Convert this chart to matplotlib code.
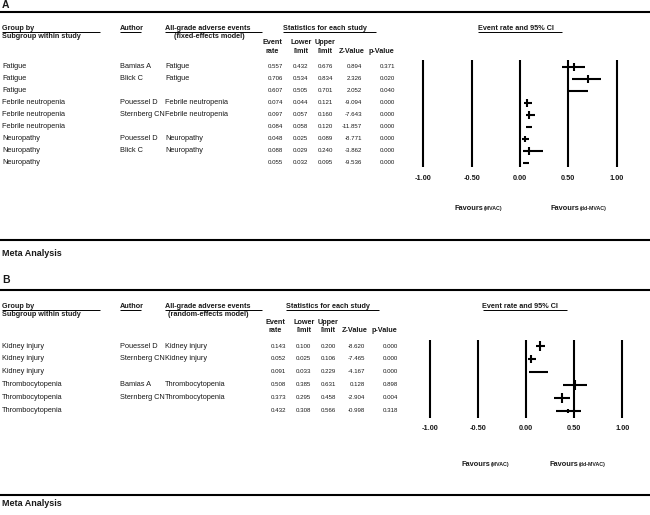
import matplotlib
matplotlib.use("Agg")
import matplotlib.pyplot as plt
from matplotlib.transforms import blended_transform_factory

plt.rcParams['font.family'] = ['Liberation Sans', 'DejaVu Sans']

# ---------------- data ----------------
a_group = ["Fatigue", "Fatigue", "Fatigue",
           "Febrile neutropenia", "Febrile neutropenia", "Febrile neutropenia",
           "Neuropathy", "Neuropathy", "Neuropathy"]
a_author = ["Bamias A", "Blick C", "", "Pouessel D", "Sternberg CN", "",
            "Pouessel D", "Blick C", ""]
a_event = ["Fatigue", "Fatigue", "", "Febrile neutropenia", "Febrile neutropenia", "",
           "Neuropathy", "Neuropathy", ""]
a_rate = [0.557, 0.706, 0.607, 0.074, 0.097, 0.084, 0.048, 0.088, 0.055]
a_lower = [0.432, 0.534, 0.505, 0.044, 0.057, 0.058, 0.025, 0.029, 0.032]
a_upper = [0.676, 0.834, 0.701, 0.121, 0.160, 0.120, 0.089, 0.240, 0.095]
a_z = [0.894, 2.326, 2.052, -9.094, -7.643, -11.857, -8.771, -3.862, -9.536]
a_p = [0.371, 0.020, 0.040, 0.000, 0.000, 0.000, 0.000, 0.000, 0.000]
a_weight = [6, 6, 1.5, 6, 6, 2, 5, 6, 2]

b_group = ["Kidney injury", "Kidney injury", "Kidney injury",
           "Thrombocytopenia", "Thrombocytopenia", "Thrombocytopenia"]
b_author = ["Pouessel D", "Sternberg CN", "", "Bamias A", "Sternberg CN", ""]
b_event = ["Kidney injury", "Kidney injury", "", "Thrombocytopenia", "Thrombocytopenia", ""]
b_rate = [0.143, 0.052, 0.091, 0.508, 0.373, 0.432]
b_lower = [0.100, 0.025, 0.033, 0.385, 0.295, 0.308]
b_upper = [0.200, 0.106, 0.229, 0.631, 0.458, 0.566]
b_z = [-8.620, -7.465, -4.167, 0.128, -2.904, -0.998]
b_p = [0.000, 0.000, 0.000, 0.898, 0.004, 0.318]
b_weight = [7, 6, 2, 7, 7, 3]

ticks = [-1.0, -0.5, 0.0, 0.5, 1.0]
tick_labels = ["-1.00", "-0.50", "0.00", "0.50", "1.00"]

# ---------------- figure ----------------
W, H = 650, 515
fig = plt.figure(figsize=(W / 100, H / 100), dpi=100)
bg = fig.add_axes([0, 0, 1, 1])
bg.set_xlim(0, W)
bg.set_ylim(H, 0)
bg.axis('off')

TC = '#1a1a1a'
BODY = 5.3
NUM = 4.4
HEAD = 5.2


def T(x, y, s, size=BODY, weight='normal', ha='left', color=TC):
    bg.text(x, y, s, fontsize=size, fontweight=weight, ha=ha, va='center', color=color)


def rule(y):
    bg.plot([0, W], [y, y], color='black', lw=1.5, solid_capstyle='butt')


def uline(x0, x1, y):
    bg.plot([x0, x1], [y, y], color='black', lw=0.7, solid_capstyle='butt')


def panel(label, y_label, y_rule, y_head, model, model_cx, dx, rows_y0, row_dy,
          group, author, event, rate, lower, upper, z, p, weight,
          zero_px, scale_px, vtop, vbot, y_ticklab, y_fav, fav_x):
    T(2, y_label, label, size=7.5, weight='bold')
    rule(y_rule)
    # headers
    T(2, y_head, "Group by", size=HEAD, weight='bold')
    uline(2, 100, y_head + 4.3)
    T(2, y_head + 8.3, "Subgroup within study", size=HEAD, weight='bold')
    T(120, y_head, "Author", size=HEAD, weight='bold')
    uline(120, 141, y_head + 4.3)
    T(165, y_head, "All-grade adverse events", size=HEAD, weight='bold')
    uline(165, 262, y_head + 4.3)
    T(model_cx, y_head + 8.3, model, size=HEAD, weight='bold', ha='center')
    T(283 + dx, y_head, "Statistics for each study", size=HEAD, weight='bold')
    uline(283 + dx, 376 + dx, y_head + 4.3)
    T(478 + 1.5 * dx, y_head, "Event rate and 95% CI", size=HEAD, weight='bold')
    uline(478 + 1.5 * dx, 562 + 1.5 * dx, y_head + 4.3)
    ye, yr = rows_y0 - 24, rows_y0 - 15
    for cx, l1, l2 in [(272.5, "Event", "rate"), (301, "Lower", "limit"),
                       (325, "Upper", "limit")]:
        T(cx + dx, ye, l1, size=HEAD, weight='bold', ha='center')
        T(cx + dx, yr, l2, size=HEAD, weight='bold', ha='center')
    T(352 + dx, yr, "Z-Value", size=HEAD, weight='bold', ha='center')
    T(381 + dx, yr, "p-Value", size=HEAD, weight='bold', ha='center')
    # rows
    cols = [283, 308, 333, 362, 395]
    for i in range(len(group)):
        y = rows_y0 + i * row_dy
        T(2, y, group[i])
        T(120, y, author[i])
        T(165, y, event[i])
        vals = [f"{rate[i]:.3f}", f"{lower[i]:.3f}", f"{upper[i]:.3f}",
                f"{z[i]:.3f}", f"{p[i]:.3f}"]
        for cx, v in zip(cols, vals):
            T(cx + dx, y, v, size=NUM, ha='right')
    # forest axes
    n = len(group)
    xl = (-1.1, 1.1)
    left = zero_px + scale_px * xl[0]
    right = zero_px + scale_px * xl[1]
    k_top = (vtop - rows_y0) / row_dy
    k_bot = (vbot - rows_y0) / row_dy
    ax = fig.add_axes([left / W, 1 - vbot / H, (right - left) / W, (vbot - vtop) / H])
    ax.set_xlim(*xl)
    ax.set_ylim(k_bot, k_top)
    ax.axis('off')
    for t in ticks:
        ax.axvline(t, color='black', lw=1.5)
    ys = list(range(n))
    ax.hlines(ys, lower, upper, color='black', lw=1.5)
    for yi, r, w in zip(ys, rate, weight):
        ax.plot([r], [yi], marker='|', ms=w, mew=1.5, color='black')
    tr = blended_transform_factory(ax.transData, bg.transData)
    for t, s in zip(ticks, tick_labels):
        ax.text(t, y_ticklab, s, transform=tr, fontsize=5.3, fontweight='bold',
                ha='center', va='center', color=TC)
    (f1, f2) = fav_x
    T(f1, y_fav, "Favours", size=5.3, weight='bold', ha='right')
    T(f1 + 1, y_fav + 0.3, "(MVAC)", size=3.8, weight='bold')
    T(f2, y_fav, "Favours", size=5.3, weight='bold', ha='right')
    T(f2 + 1, y_fav + 0.3, "(dd-MVAC)", size=3.8, weight='bold')


panel("A", 5, 11.5, 28, "(fixed-effects model)", 209, 0, 66.7, 12.0,
      a_group, a_author, a_event, a_rate, a_lower, a_upper, a_z, a_p, a_weight,
      520, 96.7, 60, 167, 179, 208, (483, 579))
rule(239.5)
T(2, 253, "Meta Analysis", size=6.5, weight='bold')

panel("B", 280, 289.5, 306, "(random-effects model)", 208, 3, 346, 12.9,
      b_group, b_author, b_event, b_rate, b_lower, b_upper, b_z, b_p, b_weight,
      526, 96.4, 340, 417.5, 429, 464, (490, 578))
rule(494.5)
T(2, 504, "Meta Analysis", size=6.5, weight='bold')

fig.savefig("out.png", dpi=100)
